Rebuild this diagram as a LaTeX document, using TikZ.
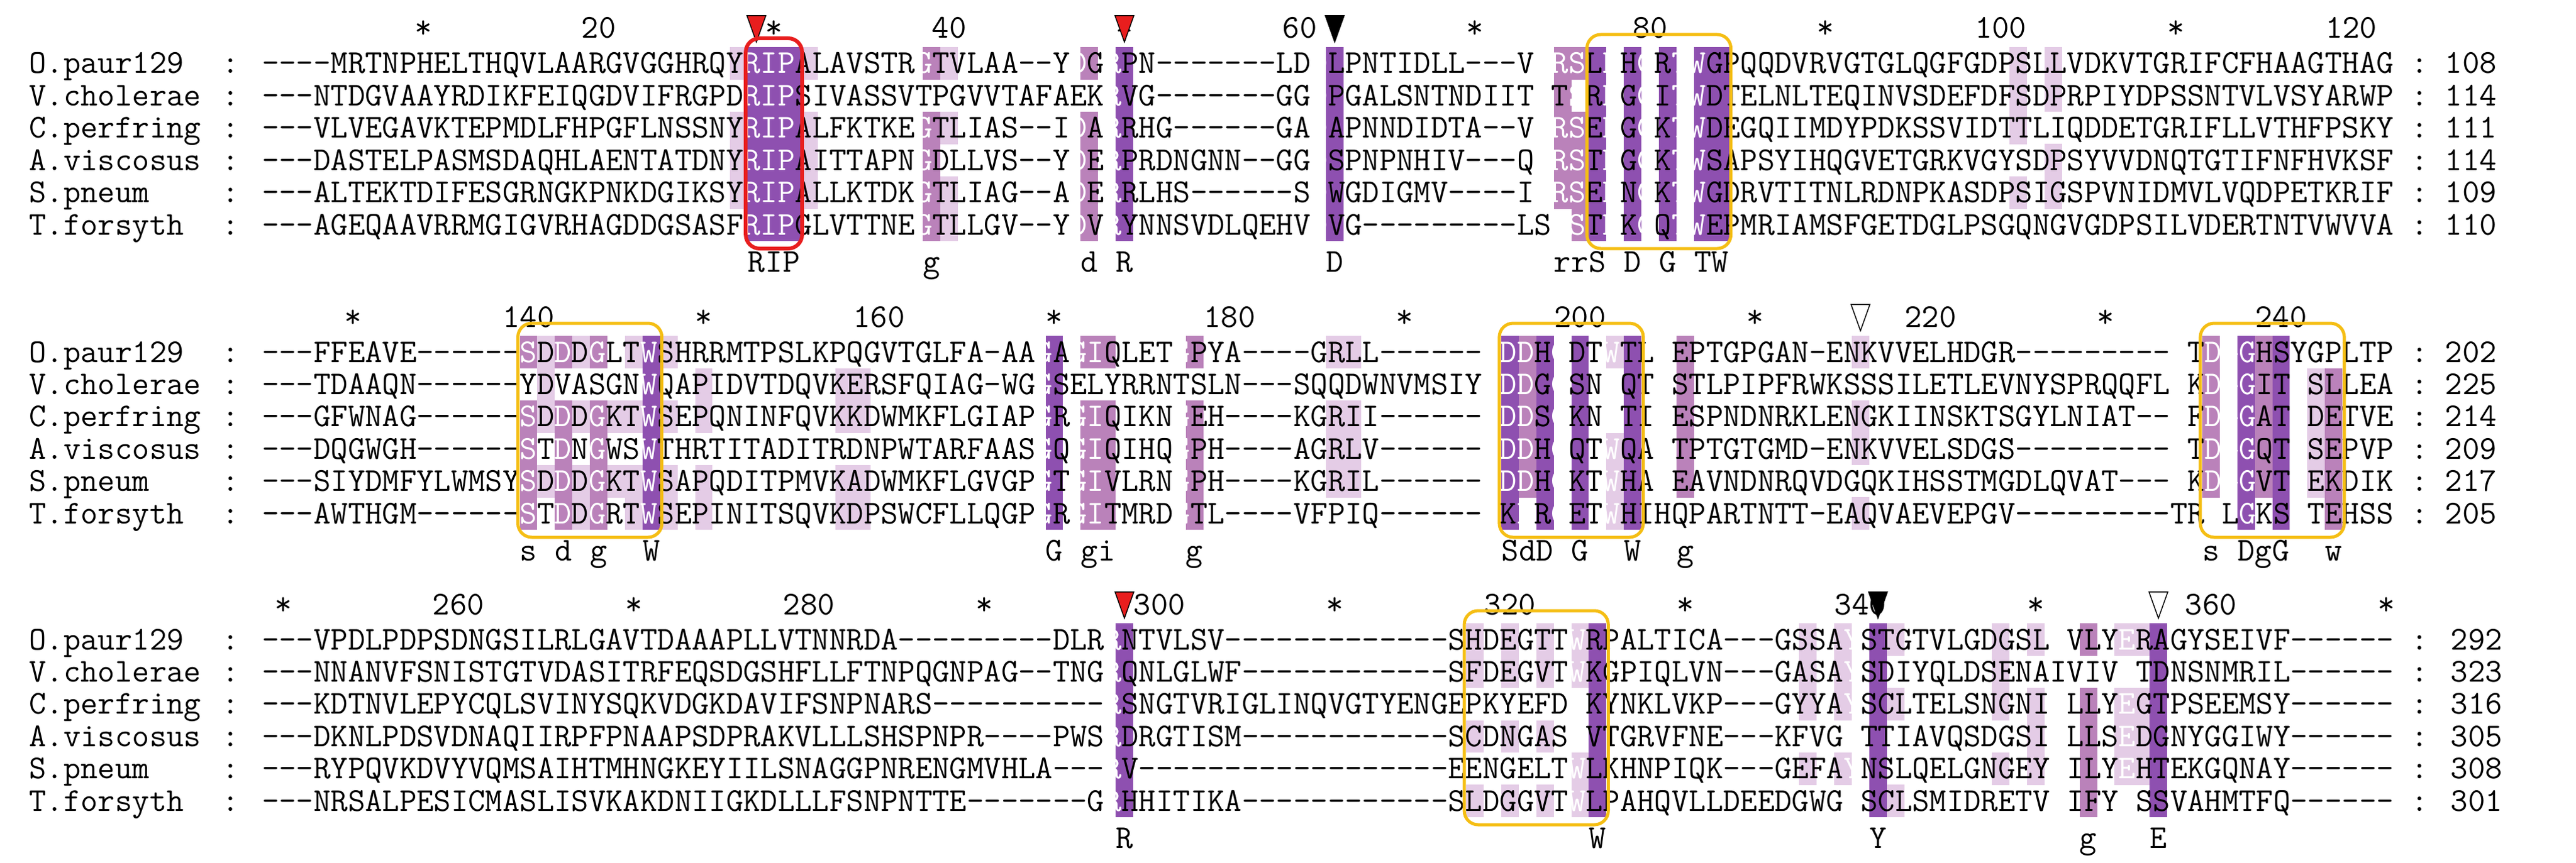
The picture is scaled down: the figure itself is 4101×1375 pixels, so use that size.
\documentclass[tikz,border=0pt]{standalone}
\usepackage{fontspec}
\definecolor{dk}{RGB}{142,80,176}
\definecolor{md}{RGB}{186,130,186}
\definecolor{lt}{RGB}{228,204,230}
\definecolor{yb}{RGB}{245,190,20}
\definecolor{rb}{RGB}{232,30,30}
\newcommand\seqfont{\ttfamily\fontsize{53.14}{60}\selectfont}
\newcommand\wh[1]{\textcolor{white}{#1}}
\newcommand\sh[4]{\foreach \r in {#3}{\fill[#4] ({409+(#2-1)*27.9},{#1+(\r-1)*51.4-25.7}) rectangle ++(27.9,51.6);}}
\newcommand\rowtxt[5]{%
\node[txt] (#5n) at (46.3,{#1+(#2-1)*51.4+16}) {#3};
\node[txt] (#5s) at ({409-2*27.9},{#1+(#2-1)*51.4+16}) {: #4};}
\newcommand\lab[3]{\node[font=\seqfont,anchor=base,inner sep=0] at ({409+(#2-0.5)*27.9},{#1}) {#3};}
\newcommand\tri[3]{\filldraw[fill=#3,draw=black,line width=1.5pt] ({409+(#2-0.5)*27.9-15},{#1-76}) -- ++(30,0) -- ({409+(#2-0.5)*27.9},{#1-34}) -- cycle;}
\newcommand\bx[5]{\draw[#5,rounded corners=22pt] ({409+(#2-1)*27.9-3},{#1-#4}) rectangle ({409+#3*27.9+3},{#1+5*51.4+38});}
\tikzset{txt/.style={font=\seqfont,anchor=base west,inner sep=0},
yel/.style={draw=yb,line width=5pt},red/.style={draw=rb,line width=6pt}}
\begin{document}
\begin{tikzpicture}[x=1pt,y=-1pt]
\useasboundingbox[fill=white] (0,0) rectangle (4101,1375);
% ---------- block 1 ----------
\def\yo{101}
\sh{\yo}{28}{1,3,4,5}{lt}
\foreach \c in {29,30,31}{\sh{\yo}{\c}{1,...,6}{dk}}
\sh{\yo}{32}{1,3,4,5}{lt}
\sh{\yo}{39}{1,3,4,5,6}{md}
\sh{\yo}{40}{1,3,5,6}{lt}
\sh{\yo}{48}{1,3,4,5,6}{md}
\sh{\yo}{50}{1,...,6}{dk}
\sh{\yo}{62}{1,...,6}{dk}
\sh{\yo}{75}{1,2,3,4,5}{md}
\sh{\yo}{76}{1,3,4,5,6}{md}
\foreach \c in {77,79,81,83,84}{\sh{\yo}{\c}{1,...,6}{dk}}
\sh{\yo}{101}{1,2,3,5}{lt}
\sh{\yo}{103}{1,2,4,5}{lt}
\rowtxt{\yo}{1}{O.paur129}{----MRTNPHELTHQVLAARGVGGHRQY\wh{RIP}ALAVSTR\wh{G}TVLAA--Y\wh{D}G\wh{R}PN-------LD\wh{D}LPNTIDLL---V\wh{RRS}L\wh{D}H\wh{G}R\wh{TW}GPQQDVRVGTGLQGFGDPSLLVDKVTGRIFCFHAAGTHAG : 108}{a1}
\rowtxt{\yo}{2}{V.cholerae}{---NTDGVAAYRDIKFEIQGDVIFRGPD\wh{RIP}SIVASSVTPGVVTAFAEK\wh{R}VG-------GG\wh{D}PGALSNTNDIIT\wh{R}T\wh{S}R\wh{D}G\wh{G}I\wh{TW}DTELNLTEQINVSDEFDFSDPRPIYDPSSNTVLVSYARWP : 114}{a2}
\rowtxt{\yo}{3}{C.perfring}{---VLVEGAVKTEPMDLFHPGFLNSSNY\wh{RIP}ALFKTKE\wh{G}TLIAS--I\wh{D}A\wh{R}RHG------GA\wh{D}APNNDIDTA--V\wh{RRS}E\wh{D}G\wh{G}K\wh{TW}DEGQIIMDYPDKSSVIDTTLIQDDETGRIFLLVTHFPSKY : 111}{a3}
\rowtxt{\yo}{4}{A.viscosus}{---DASTELPASMSDAQHLAENTATDNY\wh{RIP}AITTAPN\wh{G}DLLVS--Y\wh{D}E\wh{R}PRDNGNN--GG\wh{D}SPNPNHIV---Q\wh{RRS}T\wh{D}G\wh{G}K\wh{TW}SAPSYIHQGVETGRKVGYSDPSYVVDNQTGTIFNFHVKSF : 114}{a4}
\rowtxt{\yo}{5}{S.pneum}{---ALTEKTDIFESGRNGKPNKDGIKSY\wh{RIP}ALLKTDK\wh{G}TLIAG--A\wh{D}E\wh{R}RLHS------S\wh{D}WGDIGMV----I\wh{RRS}E\wh{D}N\wh{G}K\wh{TW}GDRVTITNLRDNPKASDPSIGSPVNIDMVLVQDPETKRIF : 109}{a5}
\rowtxt{\yo}{6}{T.forsyth}{---AGEQAAVRRMGIGVRHAGDDGSASF\wh{RIP}GLVTTNE\wh{G}TLLGV--Y\wh{D}V\wh{R}YNNSVDLQEHV\wh{D}VG---------LS\wh{RS}T\wh{D}K\wh{G}Q\wh{TW}EPMRIAMSFGETDGLPSGQNGVGDPSILVDERTNTVWVVA : 110}{a6}
\foreach \c/\t in {10/*,20/20,30/*,40/40,50/*,60/60,70/*,80/80,90/*,100/100,110/*,120/120}{\lab{\yo-40}{\c}{\t}}
\foreach \c/\t in {29/R,30/I,31/P,39/g,48/d,50/R,62/D,75/r,76/r,77/S,79/D,81/G,83/T,84/W}{\lab{\yo+6*51.4+24}{\c}{\t}}
\tri{\yo}{29}{rb}
\tri{\yo}{50}{rb}
\tri{\yo}{62}{black}
\bx{\yo}{29}{31}{40}{red}
\bx{\yo}{77}{84}{46}{yel}
% ---------- block 2 ----------
\def\yo{561}
\sh{\yo}{16}{1,3,4,5,6}{md}
\sh{\yo}{17}{1,2,3,5}{lt}
\sh{\yo}{18}{1,3,4,5,6}{md}
\sh{\yo}{19}{1,3,5,6}{lt}
\sh{\yo}{20}{1,3,4,5,6}{md}
\sh{\yo}{21}{3,5}{lt}
\sh{\yo}{22}{1,3,5,6}{lt}
\sh{\yo}{23}{1,...,6}{dk}
\sh{\yo}{24}{1,3,5,6}{lt}
\sh{\yo}{26}{2,3,5,6}{lt}
\sh{\yo}{34}{2,3,5,6}{lt}
\sh{\yo}{35}{2,3,5,6}{lt}
\sh{\yo}{46}{1,...,6}{dk}
\sh{\yo}{48}{1,3,4,5,6}{md}
\sh{\yo}{49}{1,3,4,5,6}{md}
\sh{\yo}{54}{1,3,4,5,6}{md}
\sh{\yo}{62}{1,3,4,5}{lt}
\sh{\yo}{63}{1,3,4,5}{lt}
\sh{\yo}{72}{1,...,6}{dk}
\sh{\yo}{73}{1,...,5}{md}
\sh{\yo}{74}{1,...,6}{dk}
\sh{\yo}{76}{1,...,6}{dk}
\sh{\yo}{78}{1,4,5,6}{lt}
\sh{\yo}{79}{1,...,6}{dk}
\sh{\yo}{82}{1,...,5}{md}
\sh{\yo}{92}{1,3,4,6}{lt}
\sh{\yo}{112}{1,...,5}{md}
\sh{\yo}{114}{1,...,6}{dk}
\sh{\yo}{115}{1,...,5}{md}
\sh{\yo}{116}{1,...,6}{dk}
\sh{\yo}{118}{2,3,4,5}{lt}
\sh{\yo}{119}{2,...,6}{md}
\rowtxt{\yo}{1}{O.paur129}{---FFEAVE------\wh{S}D\wh{D}D\wh{G}LT\wh{W}SHRRMTPSLKPQGVTGLFA-AA\wh{G}A\wh{GI}QLET\wh{G}PYA----GRLL------\wh{SDD}H\wh{G}DT\wh{W}TL\wh{G}EPTGPGAN-ENKVVELHDGR---------\wh{S}T\wh{DGG}HSYGPLTP : 202}{b1}
\rowtxt{\yo}{2}{V.cholerae}{---TDAAQN------YDVASGN\wh{W}QAPIDVTDQVKERSFQIAG-WG\wh{G}SELYRRNTSLN---SQQDWNVMSIY\wh{SDD}G\wh{G}SN\wh{W}QT\wh{G}STLPIPFRWKSSSILETLEVNYSPRQQFL\wh{S}K\wh{DGG}IT\wh{W}SLLEA : 225}{b2}
\rowtxt{\yo}{3}{C.perfring}{---GFWNAG------\wh{S}D\wh{D}D\wh{G}KT\wh{W}SEPQNINFQVKKDWMKFLGIAP\wh{G}R\wh{GI}QIKN\wh{G}EH----KGRII------\wh{SDD}S\wh{G}KN\wh{W}TI\wh{G}ESPNDNRKLENGKIINSKTSGYLNIAT--\wh{S}F\wh{DGG}AT\wh{W}DETVE : 214}{b3}
\rowtxt{\yo}{4}{A.viscosus}{---DQGWGH------\wh{S}T\wh{D}N\wh{G}WS\wh{W}THRTITADITRDNPWTARFAAS\wh{G}Q\wh{GI}QIHQ\wh{G}PH----AGRLV------\wh{SDD}H\wh{G}QT\wh{W}QA\wh{G}TPTGTGMD-ENKVVELSDGS---------\wh{S}T\wh{DGG}QT\wh{W}SEPVP : 209}{b4}
\rowtxt{\yo}{5}{S.pneum}{---SIYDMFYLWMSY\wh{S}D\wh{D}D\wh{G}KT\wh{W}SAPQDITPMVKADWMKFLGVGP\wh{G}T\wh{GI}VLRN\wh{G}PH----KGRIL------\wh{SDD}H\wh{G}KT\wh{W}HA\wh{G}EAVNDNRQVDGQKIHSSTMGDLQVAT---\wh{S}K\wh{DGG}VT\wh{W}EKDIK : 217}{b5}
\rowtxt{\yo}{6}{T.forsyth}{---AWTHGM------\wh{S}T\wh{D}D\wh{G}RT\wh{W}SEPINITSQVKDPSWCFLLQGP\wh{G}R\wh{GI}TMRD\wh{G}TL----VFPIQ------\wh{S}K\wh{D}R\wh{G}ET\wh{W}HIHQPARTNTT-EAQVAEVEPGV---------TR\wh{D}L\wh{G}KS\wh{W}TEHSS : 205}{b6}
\foreach \c/\t in {6/*,16/140,26/*,36/160,46/*,56/180,66/*,76/200,86/*,96/220,106/*,116/240}{\lab{\yo-40}{\c}{\t}}
\foreach \c/\t in {16/s,18/d,20/g,23/W,46/G,48/g,49/i,54/g,72/S,73/d,74/D,76/G,79/W,82/g,112/s,114/D,115/g,116/G,119/w}{\lab{\yo+6*51.4+24}{\c}{\t}}
\tri{\yo}{92}{white}
\bx{\yo}{16}{23}{46}{yel}
\bx{\yo}{72}{79}{46}{yel}
\bx{\yo}{112}{119}{46}{yel}
% ---------- block 3 ----------
\def\yo{1019}
\sh{\yo}{50}{1,...,6}{dk}
\sh{\yo}{70}{1,2,4,6}{lt}
\sh{\yo}{72}{1,2,4,6}{lt}
\sh{\yo}{74}{1,2,4,6}{lt}
\sh{\yo}{76}{1,2,5,6}{lt}
\sh{\yo}{77}{1,...,6}{dk}
\sh{\yo}{89}{1,2,3,5}{lt}
\sh{\yo}{91}{1,2,3,5}{lt}
\sh{\yo}{93}{1,...,6}{dk}
\sh{\yo}{94}{1,3,6}{lt}
\sh{\yo}{100}{1,2,3,5}{lt}
\sh{\yo}{102}{1,3,4,5}{lt}
\sh{\yo}{105}{1,3,4,5,6}{md}
\sh{\yo}{107}{1,3,4,5}{lt}
\sh{\yo}{108}{1,3,4,5}{lt}
\sh{\yo}{109}{1,...,6}{dk}
\rowtxt{\yo}{1}{O.paur129}{---VPDLPDPSDNGSILRLGAVTDAAAPLLVTNNRDA---------DLR\wh{R}NTVLSV-------------SHDEGTT\wh{W}RPALTICA---GSSA\wh{Y}STGTVLGDGSL\wh{G}VLY\wh{E}RAGYSEIVF------ : 292}{c1}
\rowtxt{\yo}{2}{V.cholerae}{---NNANVFSNISTGTVDASITRFEQSDGSHFLLFTNPQGNPAG--TNG\wh{R}QNLGLWF------------SFDEGVT\wh{W}KGPIQLVN---GASA\wh{Y}SDIYQLDSENAIVIV\wh{E}TDNSNMRIL------ : 323}{c2}
\rowtxt{\yo}{3}{C.perfring}{---KDTNVLEPYCQLSVINYSQKVDGKDAVIFSNPNARS----------\wh{R}SNGTVRIGLINQVGTYENGEPKYEFD\wh{W}KYNKLVKP---GYYA\wh{Y}SCLTELSNGNI\wh{G}LLY\wh{E}GTPSEEMSY------ : 316}{c3}
\rowtxt{\yo}{4}{A.viscosus}{---DKNLPDSVDNAQIIRPFPNAAPSDPRAKVLLLSHSPNPR----PWS\wh{R}DRGTISM------------SCDNGAS\wh{W}VTGRVFNE---KFVG\wh{Y}TTIAVQSDGSI\wh{G}LLS\wh{E}DGNYGGIWY------ : 305}{c4}
\rowtxt{\yo}{5}{S.pneum}{---RYPQVKDVYVQMSAIHTMHNGKEYIILSNAGGPNRENGMVHLA---\wh{R}V------------------EENGELT\wh{W}LKHNPIQK---GEFA\wh{Y}NSLQELGNGEY\wh{G}ILY\wh{E}HTEKGQNAY------ : 308}{c5}
\rowtxt{\yo}{6}{T.forsyth}{---NRSALPESICMASLISVKAKDNIIGKDLLLFSNPNTTE-------G\wh{R}HHITIKA------------SLDGGVT\wh{W}LPAHQVLLDEEDGWG\wh{Y}SCLSMIDRETV\wh{G}IFY\wh{E}SSVAHMTFQ------ : 301}{c6}
\foreach \c/\t in {2/*,12/260,22/*,32/280,42/*,52/300,62/*,72/320,82/*,92/340,102/*,112/360,122/*}{\lab{\yo-40}{\c}{\t}}
\foreach \c/\t in {50/R,77/W,93/Y,105/g,109/E}{\lab{\yo+6*51.4+24}{\c}{\t}}
\tri{\yo}{50}{rb}
\tri{\yo}{93}{black}
\tri{\yo}{109}{white}
\bx{\yo}{70}{77}{46}{yel}
\end{tikzpicture}
\end{document}
